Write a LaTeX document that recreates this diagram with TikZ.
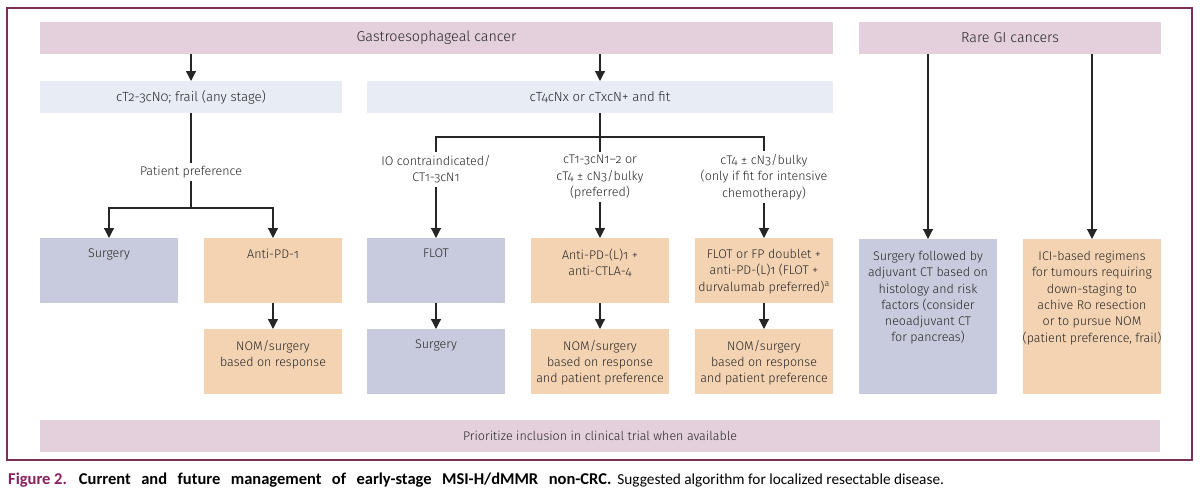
\documentclass[tikz,border=0pt]{standalone}
\usepackage{fontspec}
\setmainfont{Fira Sans Light}[Numbers=OldStyle]
\newfontfamily\capfont{Carlito}
\usetikzlibrary{arrows.meta}
\definecolor{framec}{HTML}{7A2E5C}
\definecolor{hdr}{HTML}{E3D0DC}
\definecolor{lblue}{HTML}{E7ECF5}
\definecolor{grayb}{HTML}{C8CBDD}
\definecolor{peach}{HTML}{F4D3B3}
\definecolor{txt}{HTML}{262626}
\definecolor{figpurple}{HTML}{8A1F5E}
\begin{document}
\begin{tikzpicture}[x=1pt,y=-1pt,
  box/.style={draw=none, inner sep=0pt, outer sep=0pt},
  lbl/.style={inner sep=0pt, align=center, text=txt, font=\fontsize{12.5}{16.3}\selectfont},
  hlbl/.style={lbl, font=\fontsize{14.3}{17}\selectfont},
  rlbl/.style={lbl, font=\fontsize{13.2}{16}\selectfont},
  blbl/.style={lbl, inner sep=3pt},
  arr/.style={draw=txt, line width=1.2pt, -{Triangle[length=10pt,width=10pt]}},
  ln/.style={draw=txt, line width=1.2pt},
  tbox/.style={box, minimum width=138pt, minimum height=65pt},
]
\useasboundingbox (0,0) rectangle (1200,490);
\fill[white] (0,0) rectangle (1200,490);

% frame
\draw[framec, line width=1.2pt] (7,8) rectangle (1192,460);
\draw[framec, line width=2pt] (7,460) -- (1192,460) -- (1192,8);

% headers
\node[box, hlbl, fill=hdr, minimum width=793pt, minimum height=32pt] (gastro) at (436.5,38) {Gastroesophageal cancer};
\node[box, hlbl, fill=hdr, minimum width=302pt, minimum height=32pt] (rare) at (1010,38) {Rare GI cancers};

% row 1
\node[box, rlbl, fill=lblue, minimum width=302pt, minimum height=32pt] (ct2) at (191,97) {cT2-3cN0; frail (any stage)};
\node[box, rlbl, fill=lblue, minimum width=466pt, minimum height=32pt] (ct4) at (600,97) {cT4cNx or cTxcN+ and fit};

% branch labels
\node[blbl] (pp) at (191,172) {Patient preference};
\node[blbl] (bl) at (436,169.5) {IO contraindicated/\\CT1-3cN1};
\node[blbl] (bm) at (600,177) {cT1-3cN1--2 or\\cT4 ± cN3/bulky\\(preferred)};
\node[blbl] (br3) at (764,177) {cT4 ± cN3/bulky\\(only if fit for intensive\\chemotherapy)};

% row 2
\node[tbox, fill=grayb] (s1) at (109,270.5) {};
\node[tbox, fill=peach] (a1) at (273,270.5) {};
\node[tbox, fill=grayb] (flot) at (436,270.5) {};
\node[tbox, fill=peach] (apd) at (600,270.5) {};
\node[tbox, fill=peach] (ffp) at (764,270.5) {};
\node[lbl, anchor=north] (s1t) at ([yshift=-11pt]s1.north) {Surgery};
\node[lbl, anchor=north] (a1t) at ([yshift=-11pt]a1.north) {Anti-PD-1};
\node[lbl, anchor=north] (flott) at ([yshift=-11pt]flot.north) {FLOT};
\node[lbl, anchor=north] (apdt) at ([yshift=-11pt]apd.north) {Anti-PD-(L)1 +\\anti-CTLA-4};
\node[lbl, anchor=north] (ffpt) at ([yshift=-11pt]ffp.north) {FLOT or FP doublet +\\anti-PD-(L)1 (FLOT +\\durvalumab preferred)\textsuperscript{a}};

% row 3
\node[tbox, fill=peach] (n1) at (273,361.5) {};
\node[tbox, fill=grayb] (s2) at (436,361.5) {};
\node[tbox, fill=peach] (n2) at (600,361.5) {};
\node[tbox, fill=peach] (n3) at (764,361.5) {};
\node[lbl, anchor=north] (n1t) at ([yshift=-11pt]n1.north) {NOM/surgery\\based on response};
\node[lbl, anchor=north] (s2t) at ([yshift=-11pt]s2.north) {Surgery};
\node[lbl, anchor=north] (n2t) at ([yshift=-11pt]n2.north) {NOM/surgery\\based on response\\and patient preference};
\node[lbl, anchor=north] (n3t) at ([yshift=-11pt]n3.north) {NOM/surgery\\based on response\\and patient preference};

% rare boxes
\node[box, fill=grayb, minimum width=138pt, minimum height=155pt] (r1) at (928,316.5) {};
\node[box, fill=peach, minimum width=138pt, minimum height=155pt] (r2) at (1092,316.5) {};
\node[lbl, anchor=north] (r1t) at ([yshift=-12pt]r1.north) {Surgery followed by\\adjuvant CT based on\\histology and risk\\factors (consider\\neoadjuvant CT\\for pancreas)};
\node[lbl, anchor=north] (r2t) at ([yshift=-12pt]r2.north) {ICI-based regimens\\for tumours requiring\\down-staging to\\achive R0 resection\\or to pursue NOM\\(patient preference, frail)};

% bottom bar
\node[box, lbl, fill=hdr, minimum width=1120pt, minimum height=32pt] (trial) at (600,436) {Prioritize inclusion in clinical trial when available};

% coordinates
\coordinate (pj) at (191,208);
\coordinate (bj) at (600,137);

% connectors
\draw[arr] (gastro.south -| ct2.north) -- (ct2.north);
\draw[arr] (gastro.south -| ct4.north) -- (ct4.north);
\draw[ln] (ct2.south) -- (pp.north);
\draw[ln] (pp.south) -- (pj);
\draw[arr] (pj) -| (s1.north);
\draw[arr] (pj) -| (a1.north);
\draw[ln] (ct4.south) -- (bj);
\draw[ln] (bj) -| (bl.north);
\draw[ln] (bj) -| (br3.north);
\draw[ln] (bj) -- (bm.north);
\draw[arr] (bl.south) -- (flot.north);
\draw[arr] (bm.south) -- (apd.north);
\draw[arr] (br3.south) -- (ffp.north);
\draw[arr] (a1.south) -- (n1.north);
\draw[arr] (flot.south) -- (s2.north);
\draw[arr] (apd.south) -- (n2.north);
\draw[arr] (ffp.south) -- (n3.north);
\draw[arr] (rare.south -| r1.north) -- (r1.north);
\draw[arr] (rare.south -| r2.north) -- (r2.north);

% caption
\node[anchor=base west, inner sep=0pt, font=\capfont\fontsize{15.3}{18}\selectfont, text=black] (cap) at (8,484) {{\fontsize{16.5}{18}\selectfont\bfseries\textcolor{figpurple}{Figure 2.}\hspace{12pt}{\spaceskip=10.5pt Current and future management of early-stage MSI-H/dMMR non-CRC.}}\hspace{6pt}Suggested algorithm for localized resectable disease.};
\end{tikzpicture}
\end{document}
